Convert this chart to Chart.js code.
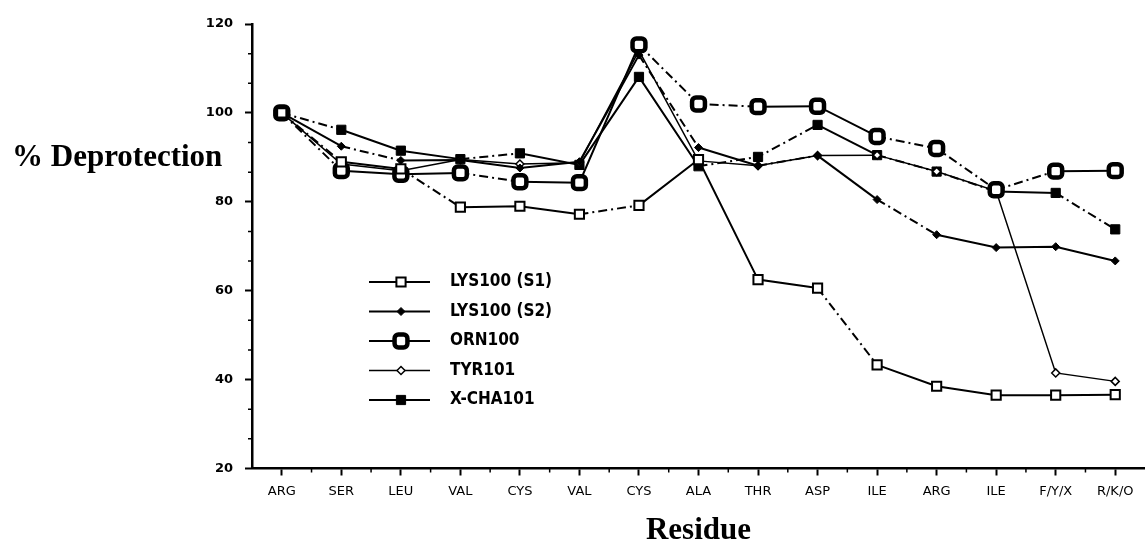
<!DOCTYPE html>
<html>
<head>
<meta charset="utf-8">
<script src="https://cdn.jsdelivr.net/npm/chart.js@4/dist/chart.umd.min.js"></script>
<style>
  body { margin: 0; background: #fff; }
  #wrap { width: 1145px; height: 546px; position: relative; }
</style>
</head>
<body>
<div id="wrap"><canvas id="c"></canvas></div>
<script>
// residues along the peptide
const residues = ['ARG', 'SER', 'LEU', 'VAL', 'CYS', 'VAL', 'CYS', 'ALA', 'THR', 'ASP', 'ILE', 'ARG', 'ILE', 'F/Y/X', 'R/K/O'];

// % deprotection
const lys100s1 = [100, 89, 87.4, 78.8, 79, 77.2, 79.2, 89.5, 62.5, 60.6, 43.3, 38.5, 36.5, 36.5, 36.6];
const lys100s2 = [100, 92.5, 89.3, 89.4, 87.6, 89, 113, 92.2, 88.1, 90.4, 80.5, 72.6, 69.7, 69.9, 66.7];
const orn100   = [100, 87, 86.2, 86.5, 84.5, 84.3, 115.3, 102, 101.4, 101.5, 94.7, 92, 82.7, 86.9, 87];
const tyr101   = [100, 88.5, 87, 89.5, 88.5, 88.8, 114, 89.2, 88.1, 90.4, 90.5, 86.8, 82.4, 41.5, 39.6];
const xcha101  = [100, 96.2, 91.5, 89.6, 90.9, 88.3, 108.1, 88, 90.1, 97.3, 90.5, 86.8, 82.3, 82, 73.8];

const yTicks = [20, 40, 60, 80, 100, 120];

// segments drawn dash-dot in the scan (index of first point)
const DASHDOT = [9, 4, 2, 4];
function dashed(list) {
    return { borderDash: ctx => list.includes(ctx.p0DataIndex) ? DASHDOT : undefined };
}

const datasets = [
    { label: 'LYS100 (S1)', data: lys100s1, pointStyle: 'rect', pointRadius: 6.5, pointBorderWidth: 2,
      pointBackgroundColor: '#fff', borderWidth: 2, segment: dashed([0, 2, 5, 9]) },
    { label: 'LYS100 (S2)', data: lys100s2, pointStyle: 'rectRot', pointRadius: 4, pointBorderWidth: 1,
      pointBackgroundColor: '#000', borderWidth: 2, segment: dashed([1, 6, 8, 10]) },
    { label: 'ORN100', data: orn100, pointStyle: 'rectRounded', pointRadius: 7.5, pointBorderWidth: 4.5,
      pointBackgroundColor: '#fff', borderWidth: 2, segment: dashed([0, 3, 6, 7, 10, 11, 12]) },
    { label: 'TYR101', data: tyr101, pointStyle: 'rectRot', pointRadius: 4, pointBorderWidth: 1.5,
      pointBackgroundColor: '#fff', borderWidth: 1.5, segment: dashed([]) },
    { label: 'X-CHA101', data: xcha101, pointStyle: 'rect', pointRadius: 6.5, pointBorderWidth: 1,
      pointBackgroundColor: '#000', borderWidth: 2, segment: dashed([0, 3, 7, 8, 10, 11, 13]) }
].map(d => Object.assign({ borderColor: '#000', pointBorderColor: '#000', tension: 0, fill: false }, d));

// small minor ticks on both axes
const minorTicks = {
    id: 'minorTicks',
    afterDraw(chart) {
        const { ctx, scales: { x, y } } = chart;
        ctx.save();
        ctx.strokeStyle = '#000';
        ctx.lineWidth = 1.5;
        ctx.beginPath();
        for (let i = 0; i < residues.length - 1; i++) {
            const px = (x.getPixelForValue(i) + x.getPixelForValue(i + 1)) / 2;
            ctx.moveTo(px, y.bottom);
            ctx.lineTo(px, y.bottom + 4);
        }
        for (let k = 1; k < 15; k++) {
            if (k % 3 === 0) continue;
            const py = y.getPixelForValue(20 + k * 20 / 3);
            ctx.moveTo(x.left, py);
            ctx.lineTo(x.left - 4, py);
        }
        ctx.stroke();
        ctx.restore();
    }
};

// horizontal y title and inline legend
const extras = {
    id: 'extras',
    afterDraw(chart) {
        const { ctx, chartArea } = chart;
        ctx.save();
        ctx.fillStyle = '#000';
        ctx.font = 'bold 31px "Liberation Serif", serif';
        ctx.textBaseline = 'alphabetic';
        ctx.textAlign = 'left';
        ctx.fillText('% Deprotection', 12, 166);

        const lx = chartArea.left + 117;
        chart.data.datasets.forEach((ds, i) => {
            const ly = 282 + i * 29.5;
            ctx.strokeStyle = '#000';
            ctx.lineWidth = ds.borderWidth;
            ctx.setLineDash([]);
            ctx.beginPath();
            ctx.moveTo(lx, ly);
            ctx.lineTo(lx + 61, ly);
            ctx.stroke();
            ctx.fillStyle = ds.pointBackgroundColor;
            ctx.lineWidth = ds.pointBorderWidth;
            Chart.helpers.drawPoint(ctx, {
                pointStyle: ds.pointStyle, radius: ds.pointRadius,
                borderWidth: ds.pointBorderWidth, rotation: 0
            }, lx + 32, ly);
            ctx.fillStyle = '#000';
            ctx.font = 'bold 17px "DejaVu Sans Condensed", "DejaVu Sans", sans-serif';
            ctx.textBaseline = 'middle';
            ctx.fillText(ds.label, lx + 81, ly);
        });
        ctx.restore();
    }
};

new Chart(document.getElementById('c'), {
    type: 'line',
    data: { labels: residues, datasets },
    plugins: [minorTicks, extras],
    options: {
        responsive: true,
        maintainAspectRatio: false,
        animation: false,
        layout: { autoPadding: false, padding: { left: 200, top: 24, right: 0, bottom: 0 } },
        plugins: { legend: { display: false }, tooltip: { enabled: false } },
        scales: {
            x: {
                type: 'category',
                offset: true,
                afterFit: s => { s.height = 77.5; s.paddingLeft = 0; s.paddingRight = 0; },
                grid: { drawOnChartArea: false, drawTicks: true, tickLength: 7, tickWidth: 2, tickColor: '#000', offset: false },
                border: { display: true, color: '#000', width: 2.5 },
                ticks: { color: '#000', padding: 8, maxRotation: 0, autoSkip: false,
                         font: { family: '"DejaVu Sans"', size: 13 } },
                title: { display: true, text: 'Residue', color: '#000', padding: { top: 0, bottom: 0 },
                         font: { family: '"Liberation Serif", serif', size: 31, weight: 'bold', lineHeight: 1 } }
            },
            y: {
                min: 20,
                max: 120,
                afterFit: s => { s.width = 52; s.paddingTop = 0; s.paddingBottom = 0; },
                afterBuildTicks: s => { s.ticks = yTicks.map(v => ({ value: v })); },
                grid: { drawOnChartArea: false, drawTicks: true, tickLength: 7, tickWidth: 2, tickColor: '#000' },
                border: { display: true, color: '#000', width: 2.5 },
                ticks: { color: '#000', padding: 12,
                         font: { family: '"DejaVu Sans"', size: 13, weight: 'bold' } }
            }
        }
    }
});
</script>
</body>
</html>
